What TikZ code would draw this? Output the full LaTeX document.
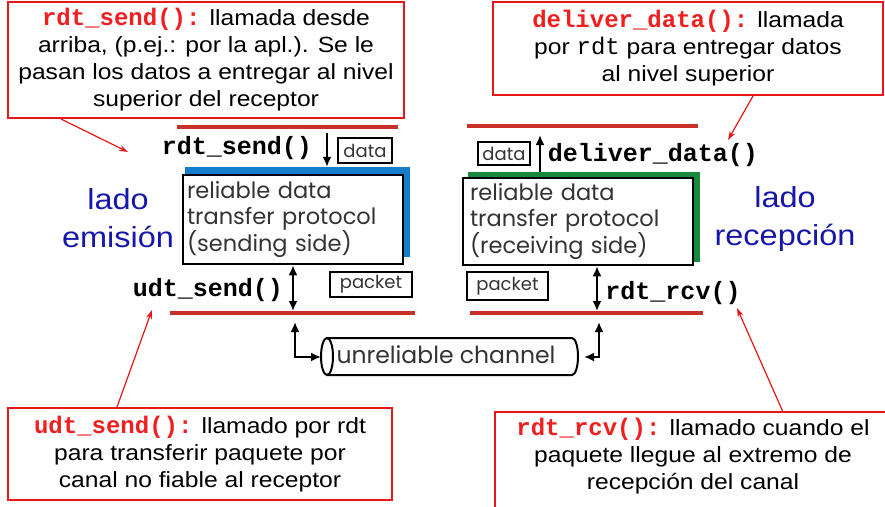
\documentclass[tikz,border=0pt]{standalone}
\usepackage{fontspec}
\setmainfont{Liberation Sans}
\setmonofont{Liberation Mono}
\newfontfamily\geofont{Poppins}
\newfontfamily\callfont[FakeStretch=1.12]{Liberation Sans}
\usetikzlibrary{arrows.meta}
\definecolor{callred}{RGB}{232,22,22}
\definecolor{barred}{RGB}{200,48,42}
\definecolor{labred}{RGB}{240,30,30}
\definecolor{sideblue}{RGB}{22,22,170}
\definecolor{sndblue}{RGB}{22,125,205}
\definecolor{rcvgreen}{RGB}{25,135,60}
\newcommand{\fnred}[1]{{\color{labred}\ttfamily\bfseries\fontsize{24}{27}\selectfont #1}}

\begin{document}
\begin{tikzpicture}[x=1pt,y=-1pt,
    callout/.style={draw=callred, line width=2pt, align=center, inner sep=0pt,
        font=\callfont\fontsize{22}{27}\selectfont},
    calltext/.style={align=center, inner sep=0pt, font=\callfont\fontsize{22}{27}\selectfont},
    callarr/.style={draw=callred, line width=1.2pt, -{Stealth[length=9pt,width=6pt]}},
    bar/.style={draw=barred, line width=4pt},
    fn/.style={font=\ttfamily\bfseries\fontsize{25}{28}\selectfont, inner sep=0pt},
    side/.style={text=sideblue, align=center, inner sep=0pt, font=\callfont\fontsize{29}{38}\selectfont},
    proto/.style={draw, fill=white, line width=2.5pt, inner sep=0pt, align=left,
        text=black!80, font=\geofont\fontsize{22.5}{26}\selectfont},
    tag/.style={draw, line width=2.2pt, inner sep=0pt, text=black!80,
        font=\geofont\fontsize{18}{20}\selectfont},
    arr/.style={line width=2pt, -{Latex[length=10pt,width=9pt]}},
    dblarr/.style={line width=2pt, {Latex[length=10pt,width=9pt]}-{Latex[length=10pt,width=9pt]}}]
    \useasboundingbox (0,0) rectangle (885,506);

    % callouts
    \node[callout, minimum width=396, minimum height=116] (cbsend) at (206,60)
        {\fnred{rdt\_send():} llamada desde\\arriba, (p.ej.: por la apl.). Se le\\pasan los datos a entregar al nivel\\superior del receptor};
    \node[callout, minimum width=390, minimum height=93] (cbdeliver) at (688,48.5)
        {\fnred{deliver\_data():} llamada\\por {\ttfamily\fontsize{24}{27}\selectfont rdt} para entregar datos\\al nivel superior};
    \node[callout, minimum width=384, minimum height=92] (cbudt) at (200,454)
        {\fnred{udt\_send():} llamado por rdt\\para transferir paquete por\\canal no fiable al receptor};
    \draw[draw=callred, line width=2pt] (495,530) |- (900,412);
    \node[calltext] (cbrcv) at (693,456)
        {\fnred{rdt\_rcv():} llamado cuando el\\paquete llegue al extremo de\\recepción del canal};

    % red layer bars
    \draw[bar] (177,127) -- (398,127);
    \draw[bar] (467,126) -- (698,126);
    \draw[bar] (170,313) -- (415,313);
    \draw[bar] (470,313) -- (703,313);

    % sending side
    \node[fill=sndblue, minimum width=225, minimum height=90, inner sep=0pt] (sndshade) at (297.5,212) {};
    \node[proto, minimum width=220, minimum height=89, text width=212] (sndbox) at (293,219.5)
        {reliable data\\transfer protocol\\(sending side)};
    \node[fn] (rdtsend) at (237,148) {rdt\_send()};
    \node[fn] (udtsend) at (208,290) {udt\_send()};
    \node[tag, minimum width=54, minimum height=25] (sdata) at (365,150.5) {data};
    \node[tag, minimum width=82, minimum height=25] (spacket) at (371,284.5) {packet};
    \node[side] (ladoem) at (118,218) {lado\\emisión};

    % receiving side
    \node[fill=rcvgreen, minimum width=232, minimum height=90, inner sep=0pt] (rcvshade) at (584,217) {};
    \node[proto, minimum width=230, minimum height=87, text width=216] (rcvbox) at (578,221.5)
        {reliable data\\transfer protocol\\(receiving side)};
    \node[fn] (deliver) at (653,155) {deliver\_data()};
    \node[fn] (rdtrcv) at (673,293) {rdt\_rcv()};
    \node[tag, minimum width=52, minimum height=23] (rdata) at (504,153.5) {data};
    \node[tag, minimum width=81, minimum height=28] (rpacket) at (507.5,286) {packet};
    \node[side] (ladorec) at (785,219) {lado\\recepción};

    % channel
    \node[inner sep=0pt, text=black!80, font=\geofont\fontsize{23.5}{26}\selectfont] (chan) at (446,355) {unreliable channel};
    \draw[line width=2pt] (327,356.5) ellipse (6 and 18.5);
    \draw[line width=2pt] (327,338) -- (572,338) arc (-90:90:6 and 18.5) -- (327,375);

    % arrows
    \coordinate (sin) at (327,133);
    \coordinate (sdn) at (293,311);
    \coordinate (rout) at (540,135);
    \coordinate (rdn) at (597,311);
    \coordinate (chl) at (321,357);
    \coordinate (chr) at (584,357);
    \draw[arr] (sin) -- (sin |- sndshade.north);
    \draw[dblarr] (sndbox.south -| sdn) -- (sdn);
    \draw[arr] (rout |- rcvshade.north) -- (rout);
    \draw[dblarr] (rcvbox.south -| rdn) -- (rdn);
    \draw[dblarr] (295,322) |- (chl);
    \draw[dblarr] (599,322) |- (chr);

    % callout pointers
    \draw[callarr] ([xshift=54pt]cbsend.south west) -- (128,152);
    \draw[callarr] ([xshift=65pt]cbdeliver.south) -- (728,140);
    \draw[callarr] ([xshift=-83pt]cbudt.north) -- (152,310);
    \draw[callarr] (783,412) -- (737,308);
\end{tikzpicture}
\end{document}
